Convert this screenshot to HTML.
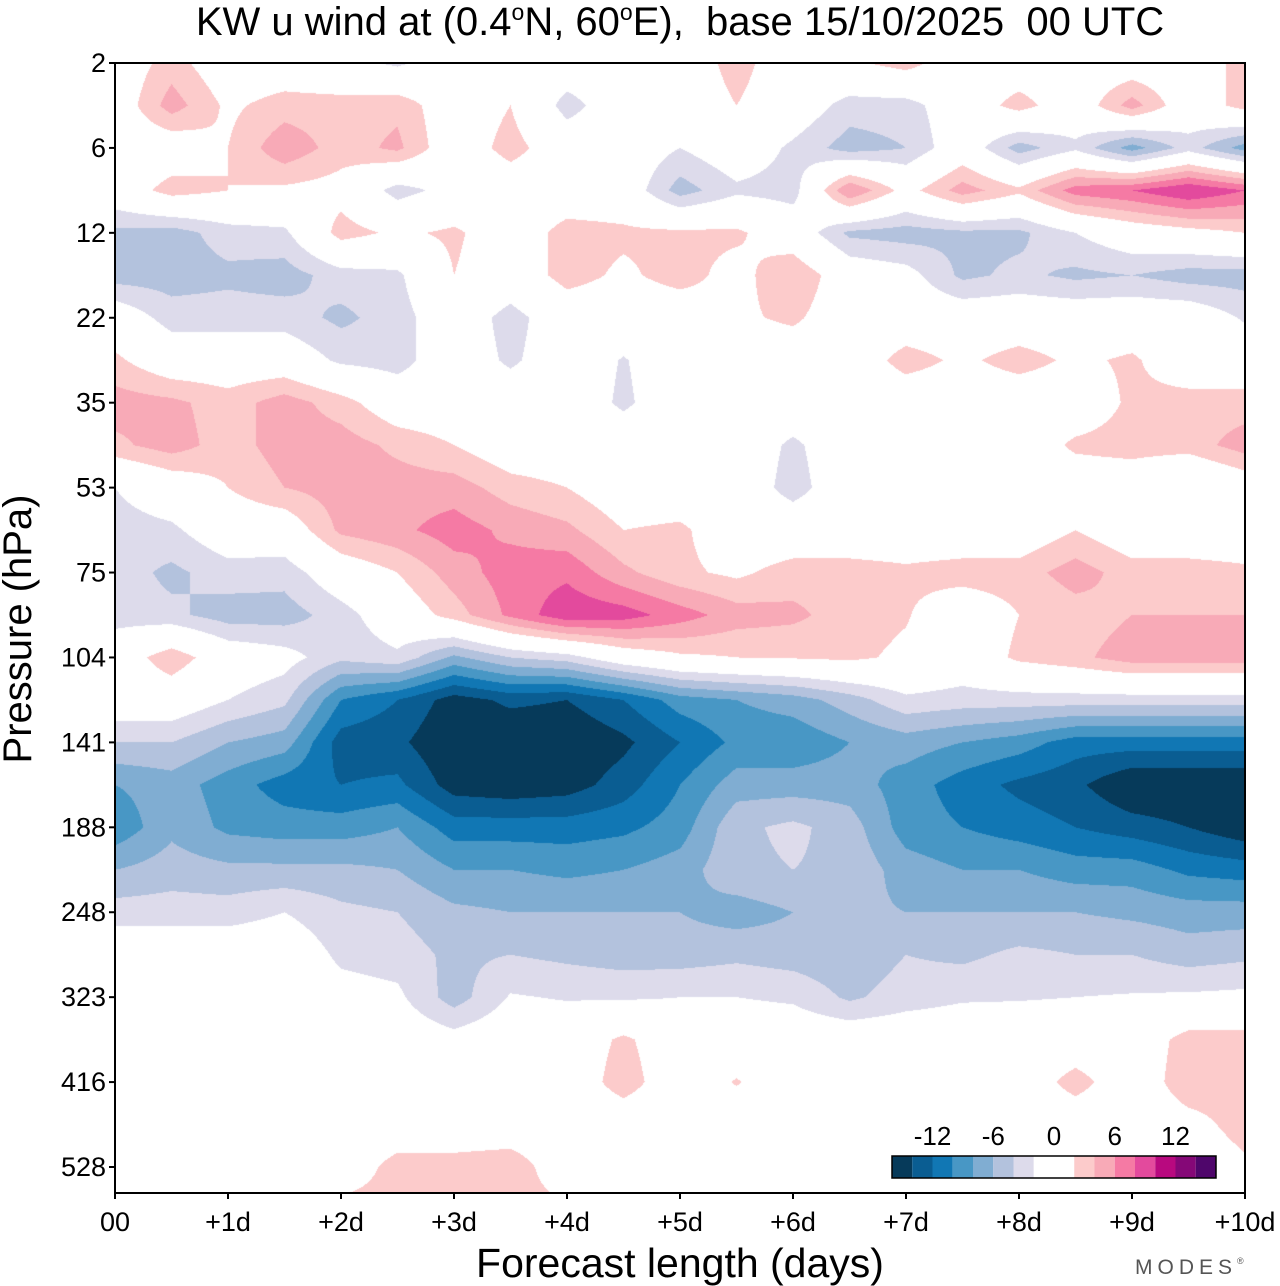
<!DOCTYPE html>
<html><head><meta charset="utf-8"><style>
html,body{margin:0;padding:0;background:#fff;width:1280px;height:1286px;overflow:hidden;font-family:"Liberation Sans",sans-serif}
#plot{position:absolute;left:115px;top:63px}
svg{position:absolute;left:0;top:0}
</style></head><body>
<canvas id="plot" width="1130" height="1130"></canvas>
<svg id="ov" width="1280" height="1286">
<text x="680" y="35" font-size="40" text-anchor="middle" style="white-space:pre">KW u wind at (0.4<tspan font-size="23" dy="-15">o</tspan><tspan dy="15">N, 60</tspan><tspan font-size="23" dy="-15">o</tspan><tspan dy="15">E),  base 15/10/2025  00 UTC</tspan></text>
<text transform="translate(31,629) rotate(-90)" font-size="40" text-anchor="middle">Pressure (hPa)</text>
<text x="680" y="1277" font-size="41" text-anchor="middle">Forecast length (days)</text>
<text x="1135" y="1274" font-size="21" fill="#555" letter-spacing="5">MODES<tspan font-size="9" dy="-10">®</tspan></text>
<g id="axes"></g>
</svg>
<script>
const days=[0,0.5,1,1.5,2,2.5,3,3.5,4,4.5,5,5.5,6,6.5,7,7.5,8,8.5,9,9.5,10];
const pressureTicks=["2","6","12","22","35","53","75","104","141","188","248","323","416","528"];
const dayTicks=["00","+1d","+2d","+3d","+4d","+5d","+6d","+7d","+8d","+9d","+10d"];
const levelBounds=[-14,-12,-10,-8,-6,-4,-2,2,4,6,8,10,12,14];
const levelColors=["#063a5a","#0a5d92","#1177b4","#4897c5","#80add2","#b3c2dd","#dddbeb","#ffffff","#fccbcb","#f8aab7","#f57aa4","#e34a9d","#b8097f","#850877","#4f066b"];
const cbLabels=["-12","-6","0","6","12"];
const cbLabelVals=[-12,-6,0,6,12];
// u-wind (m/s), rows = half-tick pressure levels from 2 hPa downward, cols = days
const u00=[0,3,0,0,-1,-2.5,0,0,0,0,0,3,0,1.5,3,0,0,0,0,0,3];
const u01=[0,5,1.5,3,3,3.5,0,2,-3,0,0,2,0,-3,-3,0,3,0,5,0,3];
const u02=[0,0,2,5.5,3,4.5,0,3,0,0,-2,0,-2.5,-5,-4,0,-5,-2.5,-7,-3,-7];
const u03=[0,3,2,1.5,1,-3,-1,0,0,0,-5,-2.5,-3,6,1,5,2.5,7,8,10,8];
const u04=[-4.5,-5,-3,-2.5,3,1.5,2.5,0,3,2.5,2.5,2.5,0,-4.5,-5,-4.5,-4.5,-2,0,1,2];
const u05=[-5,-5,-4.5,-5,-3,-2.5,2,0,3,1.5,3,1,4,0,-1,-4.5,-3.5,-4.5,-4,-5,-5];
const u06=[0,-3,-3,-3,-4.5,-3,0,-3,0,0,0,1.5,2.5,0,0,0,0,0,0,0,-2.3];
const u07=[2.5,0,0,0,-2.5,-3,0,-2.5,0,-2.2,0,0,0,0,3,1.5,3,1.5,2.4,0,0];
const u08=[5,4.5,3,5,3,0,0,0,0,-2.5,0,0,0,0,0,0,0,0,2.5,3,3];
const u09=[3.5,5,3,5,5,3.5,2,0,0,0,0,0,-2.5,0,0,0,0,2.5,3,3,5];
const u10=[-2,0,2,4,5,5,5,3,2,0,0,0,-3,0,0,0,0,0,0,-2,0];
const u11=[-3,-2.5,0,0,4.5,5.5,7,5.5,4.5,2,2.5,0,0,0,0,0,0,2,0,0,0];
const u12=[-3,-4.5,-3,-3.2,0,2,5,7,7.5,4.5,2.5,1.5,3,3,2.5,3,3,5,3,3,2.5];
const u13=[-3,-3.5,-5,-5,-3,0,3,6.5,9.5,9,7,5,4.5,3,2.2,0,2,3,4,4,4];
const u14=[0,3.5,0,-1,-3.5,-2.5,-6.5,-4,-3,0,1.5,2,2.2,2.5,1.5,0,2.5,3.5,5,5,5];
const u15=[0,0,-2,-3.5,-10,-12,-15,-13.5,-14,-12,-9,-8,-7,-5,-2.5,-3,-3,-3,-3,-3,-3];
const u16=[-4,-4,-6,-7,-13,-13.5,-16,-16,-16,-14.5,-12,-9.5,-9.5,-8,-7,-8,-9,-11,-11,-11,-11];
const u17=[-8,-7,-9,-11,-12,-11.5,-15,-15.5,-15,-13,-10,-7,-7,-7,-9,-11,-12.5,-13.5,-16,-16,-16];
const u18=[-9.5,-6.5,-8.5,-9,-9,-8,-11,-11,-11,-10.5,-9,-4.5,-3.5,-5,-9,-10,-11,-12,-13,-14,-15.5];
const u19=[-6,-5,-5.5,-5.5,-5.5,-6,-8,-8,-8.5,-8,-7,-4.5,-4,-4.5,-7,-8,-8,-9,-9,-10.5,-11];
const u20=[-3,-3,-3,-2,-3.5,-4,-5.5,-6,-6,-6,-6,-7,-6,-5.5,-6,-6,-6,-6,-6.5,-7,-7];
const u21=[0,0,0,0,-2.5,-3,-4.5,-4,-4.5,-5,-5,-4.5,-5,-5.5,-4,-4.5,-3.5,-4,-4,-5,-4.5];
const u22=[0,0,0,0,-1,-1.5,-5,-1.8,-2.2,-2.3,-2,-2,-2.4,-4.4,-3,-2.3,-2.2,-2,-1.8,-1.6,-1.4];
const u23=[0,0,0,0,0,0,-1,0,0,2.5,0,0,0,0,0,0,0,0,0,3,3];
const u24=[0,0,0,0,0,0,0,0,0,3.2,0,2.2,0,0,0,0,0,3,0,3.5,3];
const u25=[0,0,0,0,0,0,0,0,0,0,0,0,0,0,0,0,0,0,0,1,3];
const u26=[0,0,0,0,0,3,3,3.5,0,0,0,0,0,0,0,0,0,0,0,0,1.5];
const u27=[0,0,0,3,3,3,3,3,2.5,0,0,0,0,0,0,0,0,0,0,0,0];
const grid=[u00,u01,u02,u03,u04,u05,u06,u07,u08,u09,u10,u11,u12,u13,u14,u15,u16,u17,u18,u19,u20,u21,u22,u23,u24,u25,u26,u27];

const X0=115,X1=1245,Y0=63,Y1=1193;
const xScale=d=>X0+d*(X1-X0)/10;
const yScale=r=>Y0+r*(1167-63)/26; // r = half-tick row index
function hex(c){return [parseInt(c.substr(1,2),16),parseInt(c.substr(3,2),16),parseInt(c.substr(5,2),16)];}
const rgb=levelColors.map(hex);
function idxFor(v){let i=0;while(i<levelBounds.length&&v>=levelBounds[i])i++;return i;}

const cv=document.getElementById('plot'),ctx=cv.getContext('2d');
const img=ctx.createImageData(1130,1130);
const colX=days.map(xScale), rowY=grid.map((_,r)=>yScale(r));
for(let py=0;py<1130;py++){
  const Y=Y0+py+0.5;
  let r=0;while(r<rowY.length-2&&rowY[r+1]<Y)r++;
  const fy=Math.min(1,Math.max(0,(Y-rowY[r])/(rowY[r+1]-rowY[r])));
  for(let px=0;px<1130;px++){
    const X=X0+px+0.5;
    let c=Math.min(days.length-2,Math.floor((X-colX[0])/(colX[1]-colX[0])));
    const fx=(X-colX[c])/(colX[c+1]-colX[c]);
    const v=(grid[r][c]*(1-fx)+grid[r][c+1]*fx)*(1-fy)+(grid[r+1][c]*(1-fx)+grid[r+1][c+1]*fx)*fy;
    const k=rgb[idxFor(v)];const o=(py*1130+px)*4;
    img.data[o]=k[0];img.data[o+1]=k[1];img.data[o+2]=k[2];img.data[o+3]=255;
  }
}
ctx.putImageData(img,0,0);

const NS="http://www.w3.org/2000/svg",g=document.getElementById('axes');
function mk(t,a){const e=document.createElementNS(NS,t);for(const k in a)e.setAttribute(k,a[k]);g.appendChild(e);return e;}
const frame=mk('rect',{x:X0,y:Y0,width:X1-X0,height:Y1-Y0,fill:'none',stroke:'#000','stroke-width':2});


pressureTicks.forEach((p,i)=>{
  const y=yScale(i*2);
  const tk=mk('line',{x1:X0-6,x2:X0,y1:y,y2:y,stroke:'#000','stroke-width':2});
  
  
  const t=mk('text',{x:X0-9,y:y+9,'font-size':27,'text-anchor':'end'});t.textContent=p;
  
  
});
dayTicks.forEach((d,i)=>{
  const x=xScale(i);
  const tk=mk('line',{x1:x,x2:x,y1:Y1,y2:Y1+6,stroke:'#000','stroke-width':2});
  
  
  const t=mk('text',{x:x,y:1231,'font-size':27,'text-anchor':'middle'});t.textContent=d;
  
  
});
// colorbar
const cbX=892,cbY=1156,cbW=324,cbH=22,cbMin=-16,cbMax=16;
const cbScale=v=>cbX+(v-cbMin)*cbW/(cbMax-cbMin);
const edges=[cbMin].concat(levelBounds,[cbMax]);
levelColors.forEach((c,i)=>{
  const r=mk('rect',{x:cbScale(edges[i]),y:cbY,width:cbScale(edges[i+1])-cbScale(edges[i]),height:cbH,fill:c});
  
  
});
const cbf=mk('rect',{x:cbX,y:cbY,width:cbW,height:cbH,fill:'none',stroke:'#000','stroke-width':1.5});


cbLabels.forEach((l,i)=>{
  const t=mk('text',{x:cbScale(cbLabelVals[i]),y:1145,'font-size':26,'text-anchor':'middle'});t.textContent=l;
  
  
});
</script>
</body></html>
